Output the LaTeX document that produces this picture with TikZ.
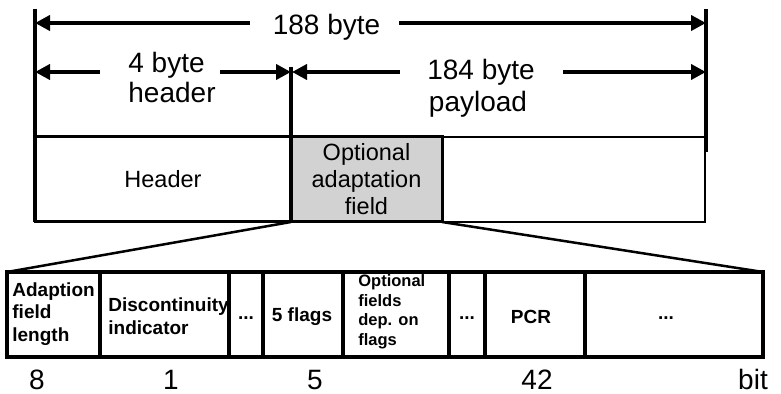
\documentclass[tikz,border=0pt]{standalone}
\usepackage{fontspec}
\setmainfont{Liberation Sans}
\usetikzlibrary{arrows.meta}
\begin{document}
\begin{tikzpicture}[x=0.5pt,y=-0.5pt,
  dimarrow/.style={line width=2pt,-{Triangle[length=7.5pt,width=7.5pt]}},
  bigtxt/.style={font=\fontsize{14}{15.5}\selectfont, inner sep=0pt, anchor=base},
  midbox/.style={draw, line width=1.5pt, anchor=north west, inner sep=0pt, outer sep=0pt,
     minimum height=42.5pt, align=center, font=\fontsize{11.75}{13.5}\selectfont},
  celltxt/.style={font=\fontsize{9.5}{11.25}\selectfont\bfseries, inner sep=0pt, align=left},
  smalltxt/.style={font=\fontsize{8.25}{9.75}\selectfont\bfseries, inner sep=0pt, align=left},
  boxline/.style={line width=1.6pt},
  vline/.style={line width=2pt},
  fanline/.style={line width=1.25pt}]
\useasboundingbox (0,0) rectangle (781,394);

% middle row
\node[midbox, minimum width=128pt] (hdr) at (35,137) {Header};
\node[midbox, minimum width=75.5pt, fill=gray!35] (opt) at (291,137) {Optional\\adaptation\\field};
\node[midbox, minimum width=131.5pt, line width=1pt] (rest) at (442,137) {};

% vertical guide lines
\coordinate (L0) at (35,9);
\coordinate (L1) at (35,222);
\coordinate (M0) at (291,67);
\coordinate (M1) at (291,222);
\coordinate (R0) at (706,9);
\coordinate (R1) at (706,152);
\draw[vline] (L0) -- (L1);
\draw[vline] (M0) -- (M1);
\draw[vline] (R0) -- (R1);

% dimension texts
\node[bigtxt] (t188) at (326.5,35) {188 byte};
\node[bigtxt] (t4) at (166.5,73) {4 byte};
\node[bigtxt] (thead) at (172,103) {header};
\node[bigtxt] (t184) at (481,80) {184 byte};
\node[bigtxt] (tpay) at (478,112) {payload};

% dimension arrows
\coordinate (a188l) at (250,23);
\coordinate (a188r) at (399,23);
\coordinate (a188L) at (35,23);
\coordinate (a188R) at (706,23);
\draw[dimarrow] (a188l) -- (a188L);
\draw[dimarrow] (a188r) -- (a188R);

\coordinate (a4l) at (100,72);
\coordinate (a4r) at (220,72);
\coordinate (a4L) at (35,72);
\coordinate (a4R) at (291,72);
\draw[dimarrow] (a4l) -- (a4L);
\draw[dimarrow] (a4r) -- (a4R);

\coordinate (a184l) at (400,72);
\coordinate (a184r) at (563,72);
\coordinate (a184L) at (292,72);
\coordinate (a184R) at (706,72);
\draw[dimarrow] (a184l) -- (a184L);
\draw[dimarrow] (a184r) -- (a184R);

% bottom row
\node[draw, boxline, anchor=north west, inner sep=0pt, outer sep=0pt,
      minimum width=378pt, minimum height=42.5pt] (row) at (7,272) {};
\foreach \xx in {100,229,263,343,449,485,585}
  \draw[boxline] (\xx,272) -- (\xx,357);

% fan lines
\draw[fanline] (opt.south west) -- (row.north west);
\draw[fanline] (opt.south east) -- (row.north east);

% cell texts
\node[celltxt, anchor=west] (c1) at (12,314) {Adaption\\field\\length};
\node[celltxt, anchor=west] (c2) at (108,316) {Discontinuity\\indicator};
\node[celltxt] (c3) at (246,318) {...};
\node[celltxt] (c4) at (302,317) {5 flags};
\node[smalltxt, anchor=west] (c5) at (358,312) {Optional\\fields\\dep. on\\flags};
\node[celltxt] (c6) at (467,318) {...};
\node[celltxt] (c7) at (531,317) {PCR};
\node[celltxt] (c8) at (666,318) {...};

% bit counts
\node[bigtxt] (n8) at (37,390) {8};
\node[bigtxt] (n1) at (171,390) {1};
\node[bigtxt] (n5) at (315,390) {5};
\node[bigtxt] (n42) at (537,390) {42};
\node[bigtxt] (nbit) at (753,390) {bit};
\end{tikzpicture}
\end{document}
